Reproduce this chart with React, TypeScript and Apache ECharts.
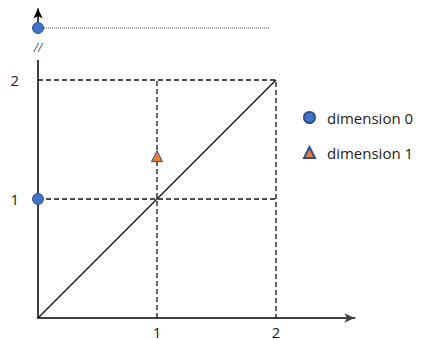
import React, { useEffect, useRef } from "react";
import * as echarts from "echarts";

const xTickLabels = [1, 2];
const yTickLabels = [1, 2];
const dimension0 = [[0, 1], [0, 2.437]];
const dimension1 = [[1, 1.36]];
const diagonal = [[0, 0], [2, 2]];
const outerBox = [[0, 2], [2, 2], [2, 0]];
const midHorizontal = [[0, 1], [2, 1]];
const midVertical = [[1, 0], [1, 2]];
const topGuide = [[0, 2.437], [1.95, 2.437]];
const yAxisLower = [[0, 0], [0, 2.168]];
const yAxisUpper = [[0, 2.437], [0, 2.6]];
const breakMark = [[0, 2.27]];

const FONT = "Open Sans";

export default function App() {
  const ref = useRef<HTMLDivElement>(null);
  useEffect(() => {
    const chart = echarts.init(ref.current!, null, { renderer: "svg" });
    const dash = { color: "#111", width: 1.3, type: [5, 3] as any };
    const lineSeries = (data: number[][], style: any) => ({
      type: "line",
      data,
      symbol: "none",
      lineStyle: style,
      silent: true,
      z: 1,
    });
    chart.setOption({
      animation: false,
      grid: { left: 38, width: 316.5, bottom: 22, height: 309.4 },
      xAxis: {
        type: "value",
        min: 0,
        max: 2.66,
        interval: 1,
        axisLine: {
          show: true,
          symbol: ["none", "arrow"],
          symbolSize: [7, 10],
          lineStyle: { color: "#404040", width: 2 },
        },
        axisTick: { show: false },
        splitLine: { show: false },
        axisLabel: {
          margin: 6,
          fontFamily: FONT,
          fontSize: 15,
          color: "#222",
          formatter: (v: number) => (xTickLabels.includes(v) ? String(v) : ""),
        },
      },
      yAxis: {
        type: "value",
        min: 0,
        max: 2.6,
        interval: 1,
        axisLine: { show: false },
        axisTick: { show: false },
        splitLine: { show: false },
        axisLabel: {
          margin: 19,
          fontFamily: FONT,
          fontSize: 15,
          color: "#222",
          formatter: (v: number) => (yTickLabels.includes(v) ? String(v) : ""),
        },
      },
      legend: {
        data: [
          { name: "dimension 0", icon: "circle" },
          { name: "dimension 1", icon: "triangle" },
        ],
        orient: "vertical",
        left: 298,
        top: 105,
        itemWidth: 11,
        itemHeight: 11,
        itemGap: 20,
        textStyle: { fontFamily: FONT, fontSize: 15, color: "#222", padding: [0, 0, 0, 7] },
      },
      series: [
        lineSeries(yAxisLower, { color: "#000", width: 1.5 }),
        {
          type: "line",
          data: [],
          markLine: {
            silent: true,
            symbol: ["none", "arrow"],
            symbolSize: [7, 10],
            label: { show: false },
            lineStyle: { color: "#000", width: 1.5, type: "solid" },
            data: [[{ coord: yAxisUpper[0] }, { coord: yAxisUpper[1] }]],
          },
        },
        lineSeries(topGuide, { color: "#555", width: 1, type: [1, 1] }),
        lineSeries(outerBox, dash),
        lineSeries(midHorizontal, dash),
        lineSeries(midVertical, dash),
        lineSeries(diagonal, { color: "#111", width: 1.3 }),
        {
          type: "scatter",
          data: breakMark,
          symbolSize: 0,
          silent: true,
          label: {
            show: true,
            position: "inside",
            formatter: "//",
            fontFamily: FONT,
            fontSize: 12,
            fontStyle: "italic",
            color: "#222",
          },
        },
        {
          name: "dimension 0",
          type: "scatter",
          data: dimension0,
          symbol: "circle",
          symbolSize: 11,
          itemStyle: { color: "#4472C4", borderColor: "#2F528F", borderWidth: 1, opacity: 1 },
          z: 5,
        },
        {
          name: "dimension 1",
          type: "scatter",
          data: dimension1,
          symbol: "triangle",
          symbolSize: 11,
          itemStyle: { color: "#ED7D31", borderColor: "#2F528F", borderWidth: 1, opacity: 1 },
          z: 5,
        },
      ],
    });
    return () => chart.dispose();
  }, []);
  return (
    <div
      ref={ref}
      style={{ position: "fixed", left: 0, top: 0, width: 424, height: 340, background: "#fff" }}
    />
  );
}
